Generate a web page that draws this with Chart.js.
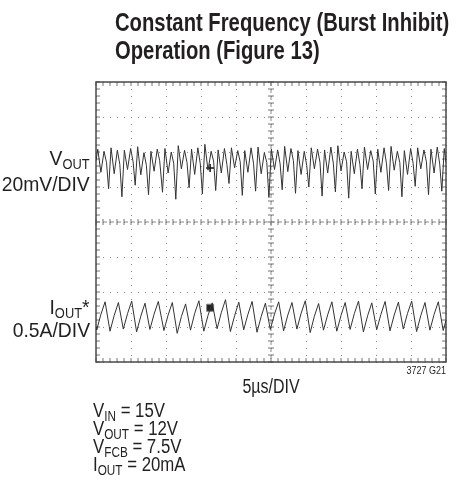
<!DOCTYPE html>
<html>
<head>
<meta charset="utf-8">
<script src="https://cdn.jsdelivr.net/npm/chart.js@4.4.1/dist/chart.umd.min.js"></script>
<style>
  body { margin: 0; background: #fff; }
  #wrap { position: relative; width: 464px; height: 489px; overflow: hidden; color: #231f20; }
  #scope { position: absolute; left: 0; top: 0; }
  /* condensed look: plain Liberation Sans squeezed horizontally */
  .txt { position: absolute; white-space: nowrap; font-family: "Liberation Sans", Arial, sans-serif; font-size: 20px; line-height: 18px; transform-origin: left center; }
  .txt sub { font-size: 14px; line-height: 0; vertical-align: -4px; }
  #title { left: 115px; top: 8px; font-weight: bold; font-size: 25px; line-height: 28px; transform: scaleX(0.81); }
  .left { right: 374px; text-align: right; font-size: 21px; transform-origin: right center; transform: scaleX(0.92); }
  #timebase { left: 0; width: 542px; text-align: center; top: 377px; transform-origin: center center; transform: scaleX(0.8); }
  #figno { right: 18px; top: 366px; font-size: 10px; line-height: 10px; transform-origin: right center; transform: scaleX(0.9); }
  #cond { left: 93px; top: 401px; transform: scaleX(0.84); }
</style>
</head>
<body>
<div id="wrap">
  <canvas id="scope" width="464" height="489"></canvas>
  <div class="txt" id="title">Constant Frequency (Burst Inhibit)<br>Operation (Figure 13)</div>
  <div class="txt left" style="top:149px">V<sub>OUT</sub></div>
  <div class="txt left" style="top:175px">20mV/DIV</div>
  <div class="txt left" style="top:298px">I<sub>OUT</sub>*</div>
  <div class="txt left" style="top:321px">0.5A/DIV</div>
  <div class="txt" id="timebase">5µs/DIV</div>
  <div class="txt" id="figno">3727 G21</div>
  <div class="txt" id="cond">
    V<sub>IN</sub> = 15V<br>
    V<sub>OUT</sub> = 12V<br>
    V<sub>FCB</sub> = 7.5V<br>
    I<sub>OUT</sub> = 20mA
  </div>
</div>
<script>
// time axis in µs (5µs/DIV, 10 divisions), vertical axis in screen divisions (0 = bottom, 8 = top)
const timeTicks = [0, 5, 10, 15, 20, 25, 30, 35, 40, 45, 50];
const divTicks = [0, 1, 2, 3, 4, 5, 6, 7, 8];

// output voltage ripple, 20mV/DIV
const voutTimes = [
  0, 0.25, 0.7, 1.15, 1.5,
  1.8, 2.15, 2.6, 3.05, 3.4,
  3.7, 4.05, 4.5, 4.95, 5.3,
  5.6, 5.95, 6.4, 6.85, 7.2,
  7.5, 7.85, 8.3, 8.75, 9.1,
  9.5, 9.85, 10.3, 10.75, 11.1,
  11.4, 11.75, 12.2, 12.65, 13.0,
  13.3, 13.65, 14.1, 14.55, 14.9,
  15.2, 15.55, 16.0, 16.45, 16.8,
  17.1, 17.45, 17.9, 18.35, 18.7,
  19.0, 19.35, 19.8, 20.25, 20.6,
  20.9, 21.25, 21.7, 22.15, 22.5,
  22.8, 23.15, 23.6, 24.05, 24.4,
  24.7, 25.05, 25.5, 25.95, 26.3,
  26.6, 26.95, 27.4, 27.85, 28.2,
  28.5, 28.85, 29.3, 29.75, 30.1,
  30.4, 30.75, 31.2, 31.65, 32.0,
  32.3, 32.65, 33.1, 33.55, 33.9,
  34.2, 34.55, 35.0, 35.45, 35.8,
  36.1, 36.45, 36.9, 37.35, 37.7,
  38.0, 38.35, 38.8, 39.25, 39.6,
  39.9, 40.25, 40.7, 41.15, 41.5,
  41.8, 42.15, 42.6, 43.05, 43.4,
  43.7, 44.05, 44.5, 44.95, 45.3,
  45.6, 45.95, 46.4, 46.85, 47.2,
  47.5, 47.85, 48.3, 48.75, 49.1,
  49.4, 49.75, 50.0
];
const voutLevels = [
  5.75, 6.08, 5.42, 6.02, 5.70,
  4.95, 6.12, 5.38, 6.05, 5.65,
  4.72, 6.05, 5.50, 6.10, 5.72,
  5.05, 6.15, 5.35, 5.98, 5.62,
  4.78, 6.02, 5.45, 6.08, 5.75,
  4.85, 6.10, 5.40, 6.00, 5.68,
  4.65, 6.18, 5.52, 6.05, 5.70,
  4.98, 6.08, 5.36, 6.12, 5.66,
  4.80, 6.22, 5.48, 6.02, 5.74,
  4.90, 6.06, 5.40, 6.10, 5.64,
  5.10, 6.12, 5.55, 6.04, 5.72,
  4.76, 6.04, 5.42, 6.12, 5.68,
  4.88, 6.14, 5.38, 5.98, 5.70,
  4.70, 6.08, 5.50, 6.06, 5.66,
  4.92, 6.16, 5.44, 6.10, 5.75,
  4.82, 6.04, 5.36, 6.02, 5.62,
  5.00, 6.12, 5.52, 6.08, 5.70,
  4.74, 6.06, 5.40, 6.14, 5.68,
  4.86, 6.18, 5.46, 6.00, 5.72,
  4.68, 6.02, 5.38, 6.08, 5.64,
  4.95, 6.14, 5.50, 6.04, 5.74,
  4.80, 6.08, 5.42, 6.12, 5.66,
  4.90, 6.16, 5.48, 6.02, 5.70,
  4.72, 6.04, 5.36, 6.10, 5.68,
  5.02, 6.12, 5.52, 6.06, 5.72,
  4.78, 6.08, 5.40, 6.14, 5.66,
  4.88, 6.10, 5.70
];

// inductor current, 0.5A/DIV: valley, kink on the up-slope, peak
const ioutTimes = [
  0,
  0.1, 0.7, 1.3,
  2.0, 2.6, 3.2,
  3.9, 4.5, 5.1,
  5.8, 6.4, 7.0,
  7.7, 8.3, 8.9,
  9.7, 10.3, 10.9,
  11.6, 12.2, 12.8,
  13.5, 14.1, 14.7,
  15.4, 16.0, 16.6,
  17.3, 17.9, 18.5,
  19.2, 19.8, 20.4,
  21.1, 21.7, 22.3,
  23.0, 23.6, 24.2,
  24.9, 25.5, 26.1,
  26.8, 27.4, 28.0,
  28.7, 29.3, 29.9,
  30.6, 31.2, 31.8,
  32.5, 33.1, 33.7,
  34.4, 35.0, 35.6,
  36.3, 36.9, 37.5,
  38.2, 38.8, 39.4,
  40.1, 40.7, 41.3,
  42.0, 42.6, 43.2,
  43.9, 44.5, 45.1,
  45.8, 46.4, 47.0,
  47.7, 48.3, 48.9,
  49.6, 50
];
const ioutLevels = [
  1.00,
  0.92, 1.36, 1.72,
  0.88, 1.33, 1.70,
  0.94, 1.38, 1.74,
  0.86, 1.31, 1.68,
  0.93, 1.37, 1.73,
  0.90, 1.34, 1.70,
  0.82, 1.30, 1.66,
  0.91, 1.39, 1.75,
  0.88, 1.33, 1.69,
  0.95, 1.41, 1.78,
  0.87, 1.32, 1.71,
  0.92, 1.36, 1.73,
  0.85, 1.30, 1.68,
  0.93, 1.37, 1.72,
  0.89, 1.34, 1.70,
  0.94, 1.39, 1.75,
  0.84, 1.31, 1.67,
  0.91, 1.35, 1.72,
  0.88, 1.33, 1.70,
  0.93, 1.38, 1.74,
  0.86, 1.32, 1.69,
  0.92, 1.36, 1.73,
  0.89, 1.34, 1.71,
  0.94, 1.39, 1.74,
  0.87, 1.33, 1.70,
  0.91, 1.36, 1.72,
  0.90, 1.18
];

// scope cursor and trigger markers [time, division]
const cursorMark = [16.3, 5.54];
const triggerMark = [16.3, 1.55];

function toPoints(times, levels) {
  return times.map((t, i) => ({ x: t, y: levels[i] }));
}

// solid frame, dashed centre cross and the little 1/5-division ticks
const scopeFrame = {
  id: 'scopeFrame',
  beforeDatasetsDraw(chart) {
    const { ctx, chartArea: a, scales: { x, y } } = chart;
    const cx = x.getPixelForValue(timeTicks[5]);
    const cy = y.getPixelForValue(divTicks[4]);
    ctx.save();
    ctx.strokeStyle = '#8a8a8a';
    ctx.lineWidth = 1;
    ctx.setLineDash([4, 3]);
    ctx.beginPath();
    ctx.moveTo(a.left, cy); ctx.lineTo(a.right, cy);
    ctx.moveTo(cx, a.top); ctx.lineTo(cx, a.bottom);
    ctx.stroke();
    ctx.setLineDash([]);

    ctx.strokeStyle = '#777';
    ctx.beginPath();
    for (let v = 0; v <= 50; v += 1) {
      const px = x.getPixelForValue(v);
      ctx.moveTo(px, cy - 3); ctx.lineTo(px, cy + 3);
      ctx.moveTo(px, a.top); ctx.lineTo(px, a.top + 4);
      ctx.moveTo(px, a.bottom); ctx.lineTo(px, a.bottom - 4);
    }
    for (let i = 0; i <= 40; i++) {
      const py = y.getPixelForValue(i / 5);
      ctx.moveTo(cx - 3, py); ctx.lineTo(cx + 3, py);
      ctx.moveTo(a.left, py); ctx.lineTo(a.left + 4, py);
      ctx.moveTo(a.right, py); ctx.lineTo(a.right - 4, py);
    }
    ctx.stroke();

    ctx.strokeStyle = '#4a4a4a';
    ctx.lineWidth = 1.5;
    ctx.strokeRect(a.left, a.top, a.width, a.height);
    ctx.restore();
  }
};

new Chart(document.getElementById('scope'), {
  type: 'scatter',
  data: {
    datasets: [
      {
        label: 'VOUT',
        data: toPoints(voutTimes, voutLevels),
        showLine: true,
        borderColor: '#333',
        borderWidth: 1,
        pointRadius: 0,
        tension: 0
      },
      {
        label: 'IOUT',
        data: toPoints(ioutTimes, ioutLevels),
        showLine: true,
        borderColor: '#333',
        borderWidth: 1,
        pointRadius: 0,
        tension: 0
      },
      {
        label: 'cursor',
        data: [{ x: cursorMark[0], y: cursorMark[1] }],
        pointStyle: 'cross',
        pointRadius: 4,
        borderColor: '#111',
        borderWidth: 1.5
      },
      {
        label: 'trigger',
        data: [{ x: triggerMark[0], y: triggerMark[1] }],
        pointStyle: 'rect',
        pointRadius: 5,
        backgroundColor: '#222',
        borderColor: '#888',
        borderWidth: 1
      }
    ]
  },
  options: {
    responsive: false,
    animation: false,
    events: [],
    layout: { padding: { left: 96, top: 82, right: 18, bottom: 127 } },
    plugins: { legend: { display: false }, tooltip: { enabled: false }, title: { display: false } },
    scales: {
      x: {
        type: 'linear',
        min: timeTicks[0],
        max: timeTicks[timeTicks.length - 1],
        afterBuildTicks: s => { s.ticks = timeTicks.map(v => ({ value: v })); },
        ticks: { display: false },
        grid: { color: '#8a8a8a', lineWidth: 1, drawTicks: false },
        border: { display: false, dash: [1, 6] }
      },
      y: {
        type: 'linear',
        min: divTicks[0],
        max: divTicks[divTicks.length - 1],
        afterBuildTicks: s => { s.ticks = divTicks.map(v => ({ value: v })); },
        ticks: { display: false },
        grid: { color: '#8a8a8a', lineWidth: 1, drawTicks: false },
        border: { display: false, dash: [1, 6] }
      }
    }
  },
  plugins: [scopeFrame]
});
</script>
</body>
</html>
